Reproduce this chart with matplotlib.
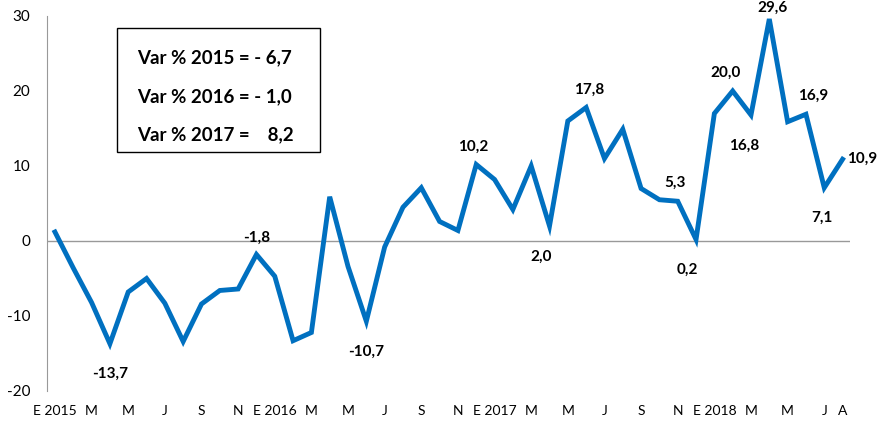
import matplotlib.pyplot as plt
from matplotlib.patches import Rectangle

# monthly % variation, Jan 2015 .. Aug 2018
values = [1.2, -3.6, -8.2, -13.7, -6.8, -5.0, -8.3, -13.4, -8.4, -6.6, -6.4, -1.8,
          -4.7, -13.3, -12.2, 5.9, -3.4, -10.7, -0.8, 4.5, 7.1, 2.6, 1.4, 10.2,
          8.2, 4.2, 10.0, 2.0, 16.0, 17.8, 11.0, 14.9, 7.0, 5.5, 5.3, 0.2,
          17.0, 20.0, 16.8, 29.6, 15.9, 16.9, 7.1, 10.9]

tick_pos = [0, 2, 4, 6, 8, 10, 12, 14, 16, 18, 20, 22, 24, 26, 28, 30, 32, 34,
            36, 38, 40, 42, 43]
tick_labels = ["E 2015", "M", "M", "J", "S", "N", "E 2016", "M", "M", "J", "S", "N",
               "E 2017", "M", "M", "J", "S", "N", "E 2018", "M", "M", "J", "A"]

# annotated points: index, text, offset (points)
ann_idx = [3, 11, 17, 23, 27, 29, 34, 35, 37, 38, 39, 41, 42, 43]
ann_txt = ["-13,7", "-1,8", "-10,7", "10,2", "2,0", "17,8", "5,3", "0,2",
           "20,0", "16,8", "29,6", "16,9", "7,1", "10,9"]
ann_off = [(0, -22), (0, 12), (0, -22), (-2, 13), (-6, -22), (2, 13), (-2, 13),
           (-6, -22), (-5, 13), (-5, -22), (2, 8), (5, 13), (-2, -22), (14, 0)]

box_lines = ["Var % 2015 = - 6,7", "Var % 2016 = - 1,0", "Var % 2017 =    8,2"]

plt.rcParams["font.family"] = ["Lato", "DejaVu Sans"]
plt.rcParams["axes.unicode_minus"] = False
blue = "#0070C0"

fig = plt.figure(figsize=(8.78, 4.21), dpi=100)
ax = fig.add_axes([0.0532, 0.0713, 0.9148, 0.8907])

x = list(range(len(values)))
ax.plot(x, values, color=blue, lw=3.5, solid_joinstyle="miter", zorder=3)
ax.axhline(0, color="#999999", lw=1, zorder=1)

ax.set_xlim(-0.45, 43.4)
ax.set_ylim(-20, 30)
ax.set_yticks([-20, -10, 0, 10, 20, 30])
ax.set_xticks(tick_pos)
ax.set_xticklabels(tick_labels)
ax.tick_params(axis="both", length=0, labelsize=11)
ax.tick_params(axis="x", pad=10, labelsize=10)
ax.tick_params(axis="y", pad=12)

for s in ["top", "right", "bottom"]:
    ax.spines[s].set_visible(False)
ax.spines["left"].set_color("#999999")

for i, t, off in zip(ann_idx, ann_txt, ann_off):
    ax.annotate(t, (i, values[i]), xytext=off, textcoords="offset points",
                ha="center", va="center", fontsize=11, fontweight="bold")

# summary box
fig.patches.append(Rectangle((117 / 878, 1 - 152 / 421), 203 / 878, 124 / 421,
                             transform=fig.transFigure, fill=False,
                             edgecolor="black", lw=1))
for k, line in enumerate(box_lines):
    fig.text(137 / 878, 1 - (58 + 38.5 * k) / 421, line, fontsize=13.5,
             fontweight="bold", va="center", ha="left")

fig.savefig("out.png", dpi=100)
